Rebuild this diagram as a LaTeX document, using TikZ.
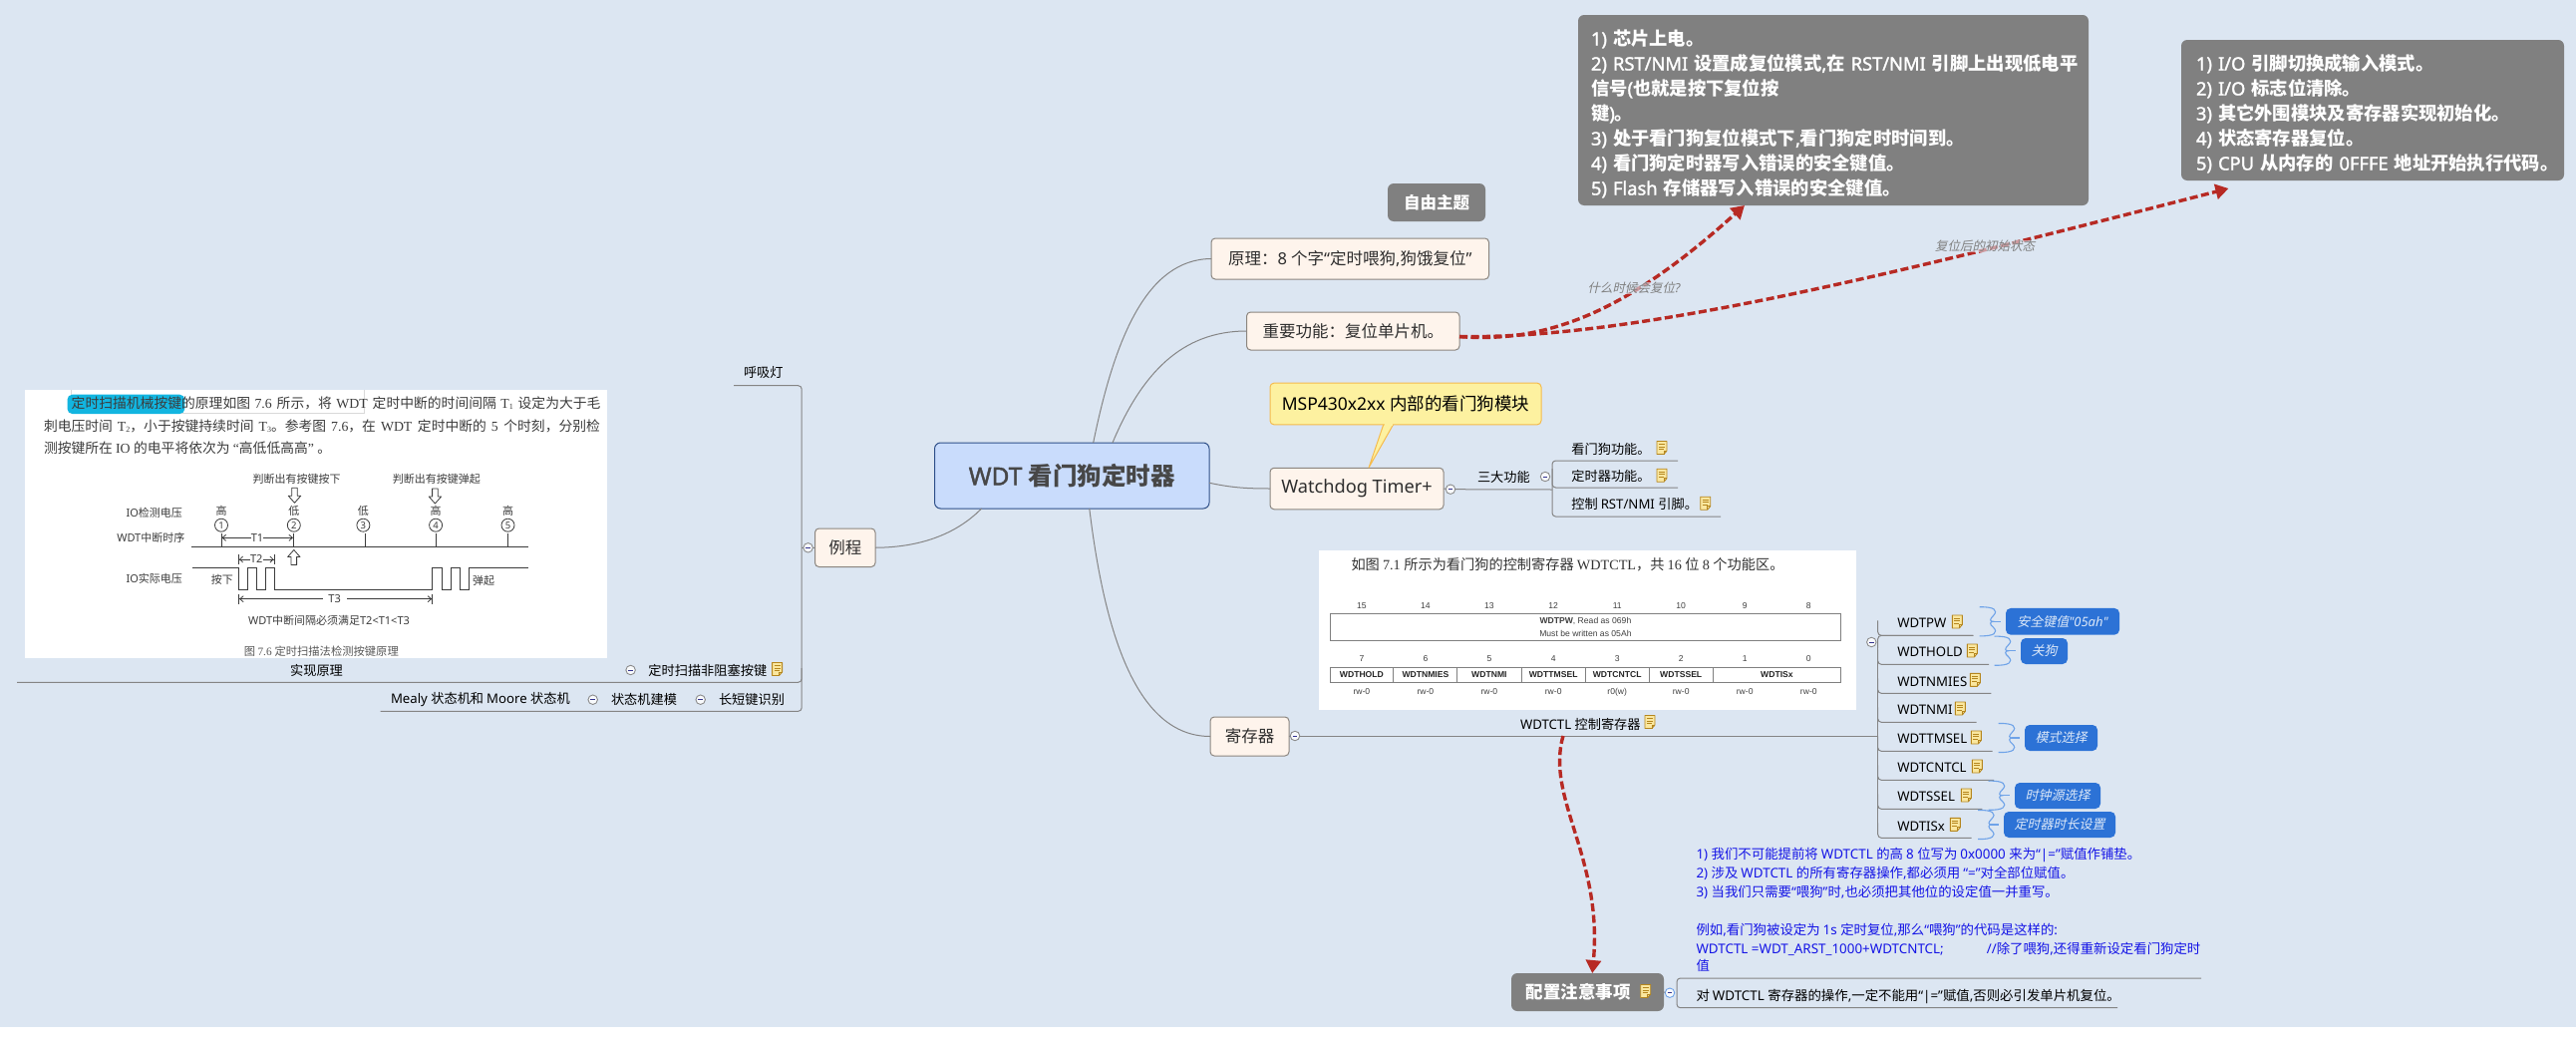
\documentclass[tikz,border=0pt]{standalone}
\usepackage{fontspec}
\usetikzlibrary{arrows.meta,calc}
\setmainfont{Noto Sans}
\newfontfamily\cjkf[AutoFakeSlant=0.22]{Noto Sans CJK SC}
\newfontfamily\sansl[AutoFakeBold=1.6]{Noto Sans}
\newfontfamily\serifl{Liberation Serif}
\newfontfamily\arialf{Liberation Sans}
\let\latinf\sansl
\newXeTeXintercharclass\cjkcl
\newcount\cc
\cc="0021 \loop \XeTeXcharclass\cc=0 \advance\cc 1 \ifnum\cc<"007F \repeat
\XeTeXcharclass"2018=0 \XeTeXcharclass"2019=0 \XeTeXcharclass"201C=0 \XeTeXcharclass"201D=0
\cc="3000 \loop \XeTeXcharclass\cc=\cjkcl \advance\cc 1 \ifnum\cc<"30FF \repeat
\cc="4E00 \loop \XeTeXcharclass\cc=\cjkcl \advance\cc 1 \ifnum\cc<"9FFF \repeat
\cc="FF00 \loop \XeTeXcharclass\cc=\cjkcl \advance\cc 1 \ifnum\cc<"FFEF \repeat
\XeTeXinterchartoks 0 \cjkcl={\cjkf}
\XeTeXinterchartoks 4095 \cjkcl={\cjkf}
\XeTeXinterchartoks \cjkcl 0={\latinf}
\XeTeXinterchartoks 4095 0={\latinf}
\XeTeXinterchartokenstate=1
\newcommand{\fz}[1]{\fontsize{#1}{#1}\selectfont}
\newcommand{\sbs}[1]{\lower1.5pt\hbox{\fz{8}#1}}
\definecolor{bg}{HTML}{DCE6F2}
\definecolor{rootfill}{HTML}{C9DCFC}
\definecolor{rootbrd}{HTML}{2F5089}
\definecolor{topicfill}{HTML}{FEF4EC}
\definecolor{topicbrd}{HTML}{8C8680}
\definecolor{graybox}{HTML}{808080}
\definecolor{branchc}{HTML}{858585}
\definecolor{redarr}{HTML}{B72A24}
\definecolor{yelfill}{HTML}{FDF1A0}
\definecolor{yelbrd}{HTML}{F5BB4E}
\definecolor{tagfill}{HTML}{2C72D6}
\definecolor{tagtext}{HTML}{DCE8F8}
\definecolor{bracec}{HTML}{6FA3E8}
\definecolor{notefill}{HTML}{FAE79F}
\definecolor{notebrd}{HTML}{B5861E}
\definecolor{txt}{HTML}{2E2E2E}
\definecolor{imgtxt}{HTML}{3C3C3C}
\definecolor{bluetxt}{HTML}{1414E6}
\definecolor{hilite}{HTML}{12B5E0}
\tikzset{
  x=1pt,y=-1pt,
  every node/.style={inner sep=0pt,outer sep=0pt},
  rootbox/.style={draw=rootbrd,fill=rootfill,rounded corners=6,line width=1,text=black!72,font=\bfseries\fz{24.5}},
  topicbox/.style={draw=topicbrd,fill=topicfill,rounded corners=4,line width=1,text=txt,font=\fz{16.5}},
  grayb/.style={fill=graybox,rounded corners=6,text=white,font=\bfseries\fontsize{18.3}{25}\selectfont},
  yellowb/.style={draw=yelbrd,fill=yelfill,rounded corners=4,line width=1,text=black,font=\fz{17.5}},
  tagbox/.style={fill=tagfill,rounded corners=5,text=tagtext,font=\itshape\fz{13}},
  lbl/.style={text=black,font=\fz{13.2}},
  conn/.style={draw=branchc,line width=1},
  branch/.style={draw=branchc,line width=1,rounded corners=3.5},
  redline/.style={draw=redarr,line width=3.4,dash pattern=on 8pt off 3.5pt,-{Triangle[length=13pt,width=15pt]}},
  rellbl/.style={text=gray,font=\itshape\fz{12.5},fill=bg,fill opacity=.6,text opacity=1},
  collapse/.style={circle,draw=gray!90,fill=white!80!bg,line width=.9,minimum size=9.5,
    path picture={\draw[line width=.8,black!40!blue!60!gray]
      ([xshift=-2.4]path picture bounding box.center)--([xshift=2.4]path picture bounding box.center);}},
  noteicon/.pic={
    \draw[draw=notebrd,fill=notefill,line width=.9,line join=round] (-5,-6.5)--(5,-6.5)--(5,3)--(2,6.5)--(-5,6.5)--cycle;
    \draw[draw=notebrd,line width=.7] (-3,-3.5)--(3,-3.5) (-3,-1)--(3,-1) (-3,1.5)--(2,1.5) (5,3)--(2,3)--(2,6.5);
  },
  bracepic/.pic={
    \draw[bracec,line width=1.1] (-21,-14.5) .. controls (-6,-15) and (-2,-11) .. (-7,-6) .. controls (-11,-2) and (-11,0) .. (-7,0)
      .. controls (-11,0) and (-11,3) .. (-7,6) .. controls (-2,11) and (-6,15) .. (-21,14.5);
    \draw[bracec,line width=1.4] (-8,0)--(0,0);
  },
  hollowdn/.pic={
    \draw[draw=imgtxt,fill=white,line width=.8,line join=round] (-2.8,0)--(2.8,0)--(2.8,8)--(6.2,8)--(0,15)--(-6.2,8)--(-2.8,8)--cycle;
  },
  imgt/.style={text=imgtxt,font=\fz{11}},
  tblt/.style={text=black!75,font=\let\latinf\arialf\arialf\fz{8.6}},
  tblb/.style={text=black!85,font=\let\latinf\arialf\arialf\bfseries\fz{8.6}},
  imgline/.style={draw=imgtxt,line width=.9},
  timearr/.style={draw=imgtxt,line width=.8},
  imgnum/.style={circle,draw=imgtxt,line width=.8,minimum size=13,text=imgtxt,font=\fz{9.5}},
}
\begin{document}
\begin{tikzpicture}
\useasboundingbox (0,0) rectangle (2584,1044);
\fill[white] (0,0) rectangle (2584,1044);
\fill[bg] (0,0) rectangle (2584,1030);

% ---- main nodes
\node[rootbox,minimum width=275.5,minimum height=66] (root) at (1075.25,477) {WDT 看门狗定时器};
\node[topicbox,minimum width=278.5,minimum height=41] (yl) at (1354.25,259.5) {原理：8 个字“定时喂狗,狗饿复位”};
\node[topicbox,minimum width=213.5,minimum height=38] (zy) at (1357.25,332) {重要功能：复位单片机。};
\node[topicbox,minimum width=174,minimum height=41.5,font=\fz{18.2}] (wt) at (1361,490) {Watchdog Timer+};
\node[topicbox,minimum width=79,minimum height=39,font=\fz{16.5}] (reg) at (1253.5,738.5) {寄存器};
\node[topicbox,minimum width=60.5,minimum height=38.5] (ex) at (847.75,549.25) {例程};
\node[grayb,minimum width=98,minimum height=38,font=\bfseries\fz{16.5}] (free) at (1441,203) {自由主题};
\node[grayb,minimum width=512,minimum height=191,anchor=north west,text width=486,align=left,inner xsep=13] (g1) at (1583,15) {%
  \rule{0pt}{23pt}1) 芯片上电。\\
  \mbox{2) RST/NMI 设置成复位模式,在 RST/NMI 引脚上出现低电平}\\
  信号(也就是按下复位按\\
  键)。\\
  3) 处于看门狗复位模式下,看门狗定时时间到。\\
  4) 看门狗定时器写入错误的安全键值。\\
  5) Flash 存储器写入错误的安全键值。};
\node[grayb,minimum width=380,minimum height=141,anchor=north west,text width=354,align=left,inner xsep=15] (g2) at (2188,40) {%
  \rule{0pt}{23pt}1) I/O 引脚切换成输入模式。\\
  2) I/O 标志位清除。\\
  3) 其它外围模块及寄存器实现初始化。\\
  4) 状态寄存器复位。\\
  \mbox{5) CPU 从内存的 0FFFE 地址开始执行代码。}};
\node[grayb,minimum width=153,minimum height=38,anchor=west,text width=153,font=\bfseries\fz{17.5}] (cfg) at (1516,995) {\hspace*{14.5pt}配置注意事项};
\pic at (1650.7,994) {noteicon};

% yellow callout
\fill[yelfill,draw=yelbrd,line width=1,line join=round] (1388,425) -- (1373,469) -- (1398,425);
\node[yellowb,minimum width=272,minimum height=41.7] (msp) at (1410,405) {MSP430x2xx 内部的看门狗模块};
\fill[yelfill] (1389,424) rectangle (1397,427);

% ---- main branches
\draw[conn] (root.57) .. controls (1118,340) and (1150,260) .. (yl.west);
\draw[conn] (root.39) .. controls (1145,375) and (1185,332) .. (zy.west);
\draw[conn] (root.-3.7) .. controls (1235,489) and (1250,490) .. (wt.west);
\draw[conn] (root.298) .. controls (1108,635) and (1140,738.5) .. (reg.west);
\draw[conn] (root.200) .. controls (955,540) and (915,549) .. (ex.east);

% ---- red relations
\draw[redline] (zy.-3.7) .. controls (1560,345) and (1640,305) .. (g1.227);
\draw[redline] (zy.-3.7) .. controls (1640,340) and (1900,275) .. ([yshift=-8]g2.206.7);
\node[rellbl] (ql) at (1639,289) {什么时候会复位?};
\node[rellbl] (ql2) at (1991,247) {复位后的初始状态};

% ---- Watchdog sub tree
\node[collapse] (c1) at (1455,490.7) {};
\node[lbl,anchor=west] (sd) at (1482,478) {三大功能};
\node[collapse] (c2) at (1550,478) {};
\coordinate (wja) at (1557,491);
\draw[conn] (wt.east) -- (c1);
\draw[conn] (c1) -- (wja);
\node[lbl,anchor=west] (w1) at (1576.4,450) {看门狗功能。};
\node[lbl,anchor=west] (w2) at (1576.4,477) {定时器功能。};
\node[lbl,anchor=west] (w3) at (1576.4,505.5) {控制 RST/NMI 引脚。};
\pic at (1667,449) {noteicon};
\pic at (1667,476.7) {noteicon};
\pic at (1710.7,504.7) {noteicon};
\coordinate (wa) at (1683,462);
\coordinate (wb) at (1683,489);
\coordinate (wd) at (1726,518);
\draw[branch] (wa) -- (1557,462) -- (1557,518) -- (wd);
\draw[branch] (1557,470) -- (1557,489) -- (wb);

% ---- register image
\fill[white] (1323,552) rectangle (1861.6,711.7);
\node[text=black!80,font=\fz{14.2},anchor=west] (imgr) at (1355.5,566.7) {\let\latinf\serifl 如图 7.1 所示为看门狗的控制寄存器 WDTCTL，共 16 位 8 个功能区。};
\foreach \n/\nx [count=\i] in {15/1365.9,14/1429.9,13/1493.9,12/1558.2,11/1622.2,10/1686.2,9/1750.2,8/1814.3}
  \node[tblt] (nh\i) at (\nx,607.7) {\n};
\foreach \n/\nx [count=\i] in {7/1365.9,6/1429.9,5/1493.9,4/1558.2,3/1622.2,2/1686.2,1/1750.2,0/1814.3}
  \node[tblt] (nl\i) at (\nx,660.7) {\n};
\foreach \n/\nx [count=\i] in {rw-0/1365.9,rw-0/1429.9,rw-0/1493.9,rw-0/1558.2,r0(w)/1622.2,rw-0/1686.2,rw-0/1750.2,rw-0/1814.3}
  \node[tblt,anchor=base] (nr\i) at (\nx,696.7) {\n};
\draw[gray,line width=.9] (1334,615.3) rectangle (1846.8,642.3);
\draw[gray,line width=.9] (1334,669) rectangle (1846.8,684.3);
\foreach \dx in {1397.7,1461.7,1526,1590.4,1654.4,1718.4}
  \draw[gray,line width=.9] (\dx,669) -- (\dx,684.3);
\node[tblt] (pw1) at (1590.4,623) {\textbf{WDTPW}, Read as 069h};
\node[tblt] (pw2) at (1590.4,635) {Must be written as 05Ah};
\foreach \n/\nx [count=\i] in {WDTHOLD/1365.9,WDTNMIES/1429.9,WDTNMI/1493.9,WDTTMSEL/1558.2,WDTCNTCL/1622.2,WDTSSEL/1686.2,WDTISx/1782.4}
  \node[tblb] (cell\i) at (\nx,676.7) {\n};

% ---- register sub tree
\node[collapse] (c3) at (1299,738) {};
\coordinate (rj) at (1883.7,738);
\draw[conn] (reg.east) -- (c3);
\draw[conn] (c3) -- (rj);
\node[lbl,anchor=west] (wdt) at (1525,726) {WDTCTL 控制寄存器};
\pic at (1655,724) {noteicon};
\node[collapse] (c4) at (1877.3,644) {};
\draw[branch] (1883.7,650) -- (1883.7,830);
\foreach \t/\ly/\ix/\ln/\rx [count=\i] in {
  WDTPW/625/1963.3/637.3/1979.3,
  WDTHOLD/654/1978.3/666.3/1995,
  WDTNMIES/683.3/1981.3/695.3/1997.3,
  WDTNMI/712/1966.3/724.3/1982.7,
  WDTTMSEL/741/1982.3/753.3/1998.7,
  WDTCNTCL/770/1983.3/782.3/2000,
  WDTSSEL/799/1972.3/811.3/1988.3,
  WDTISx/828.3/1961.3/840.3/1977.7}{
  \node[lbl,anchor=west] (r\i) at (1903.3,\ly) {\t};
  \pic at (\ix,\ly-1.5) {noteicon};
  \coordinate (re\i) at (\rx,\ln);
  \draw[branch] (1883.7,\ln-15) -- (1883.7,\ln) -- (re\i);
}
\draw[branch] (re1) -- (1883.7,637.3) -- (1883.7,650);
\node[tagbox,minimum width=114,minimum height=26.7] (t1) at (2069,623.3) {安全键值"05ah"};
\node[tagbox,minimum width=47,minimum height=26] (t2) at (2050.5,653) {关狗};
\node[tagbox,minimum width=73,minimum height=26] (t3) at (2067.5,740) {模式选择};
\node[tagbox,minimum width=86,minimum height=26] (t4) at (2064,798) {时钟源选择};
\node[tagbox,minimum width=112,minimum height=26] (t5) at (2066,827) {定时器时长设置};
\pic at (2006.6,623.3) {bracepic};
\pic at (2021.7,652.7) {bracepic};
\pic at (2025.7,740) {bracepic};
\pic at (2015.7,797.7) {bracepic};
\pic at (2005,827) {bracepic};

% ---- config
\node[text=bluetxt,font=\fontsize{13.4}{19}\selectfont,anchor=north west,align=left] (nb) at (1701.5,850) {%
  1) 我们不可能提前将 WDTCTL 的高 8 位写为 0x0000 来为“|=”赋值作铺垫。\\
  2) 涉及 WDTCTL 的所有寄存器操作,都必须用 “=”对全部位赋值。\\
  3) 当我们只需要“喂狗”时,也必须把其他位的设定值一并重写。\\[19pt]
  例如,看门狗被设定为 1s 定时复位,那么“喂狗”的代码是这样的:\\
  WDTCTL =WDT\_ARST\_1000+WDTCNTCL;\hspace{43pt}//除了喂狗,还得重新设定看门狗定时\\[-2pt]
  值};
\node[text=black,font=\fz{13.4},anchor=west] (nd) at (1701.5,999) {对 WDTCTL 寄存器的操作,一定不能用“|=”赋值,否则必引发单片机复位。};
\node[collapse,draw=bracec] (c5) at (1675,995.7) {};
\coordinate (nt) at (2208,981);
\coordinate (nu) at (2124,1010.7);
\draw[branch] (nt) -- (1682,981) -- (1682,1010.7) -- (nu);
\draw[conn] (cfg.east) -- (c5);
\coordinate (regl) at (1568,738);
\draw[redline] (regl) .. controls (1550,800) and (1608,860) .. (cfg.76.7);

% ---- left sub tree
\node[collapse] (c6) at (810.6,549.3) {};
\draw[conn] (ex.west) -- (c6);
\coordinate (lj) at (804.2,549.3);
\draw[conn] (c6) -- (lj);
\node[lbl] (br) at (765.8,374) {呼吸灯};
\coordinate (la) at (736,386.7);
\coordinate (lb) at (17,684.3);
\coordinate (lc) at (381.7,713.3);
\draw[branch] (la) -- (804.2,386.7) -- (804.2,713.3) -- (lc);
\draw[branch] (804.2,670) -- (804.2,684.3) -- (lb);
\node[lbl] (sx) at (317.5,672) {实现原理};
\node[collapse] (c7) at (632.6,672) {};
\node[lbl,anchor=west] (sm) at (650.4,672) {定时扫描非阻塞按键};
\pic at (779.6,671) {noteicon};
\node[lbl,anchor=west] (me) at (392,701.7) {Mealy 状态机和 Moore 状态机};
\node[collapse] (c8) at (594.7,701.7) {};
\node[lbl,anchor=west] (jm) at (613,701.7) {状态机建模};
\node[collapse] (c9) at (702.7,701.7) {};
\node[lbl,anchor=west] (cd) at (721,701.7) {长短键识别};

% ---- scanning image
\fill[white] (25,391) rectangle (609,660);
\draw[gray!30,line width=.8] (71.7,391) -- (71.7,414) -- (365.6,414) -- (365.6,391);
\fill[hilite,rounded corners=5] (67.5,395.7) rectangle (185.3,415);
\begin{scope}[every node/.append style={font=\fz{13.8},text=imgtxt}]
\node[anchor=west] (i1) at (71.7,404) {\let\latinf\serifl\makebox[530.8pt][s]{定时扫描机械按键的原理如图 7.6 所示，将 WDT 定时中断的时间间隔 T\sbs{1} 设定为大于毛}};
\node[anchor=west] (i2) at (44,427.3) {\let\latinf\serifl\makebox[558pt][s]{刺电压时间 T\sbs{2}，小于按键持续时间 T\sbs{3}。参考图 7.6，在 WDT 定时中断的 5 个时刻，分别检}};
\node[anchor=west] (i3) at (44,449.3) {\let\latinf\serifl 测按键所在 IO 的电平将依次为 “高低低高高” 。};
\end{scope}
\node[imgt] (p1) at (297.5,480) {判断出有按键按下};
\node[imgt] (p2) at (437.9,480) {判断出有按键弹起};
\pic at (295.5,489.3) {hollowdn};
\pic at (436.4,490) {hollowdn};
\pic[yscale=-1] at (294.8,566.5) {hollowdn};
\node[imgt] (l1) at (154.7,514) {IO检测电压};
\node[imgt] (l2) at (151.3,539) {WDT中断时序};
\node[imgt] (l3) at (154.7,580.3) {IO实际电压};
\foreach \h/\hx [count=\i] in {高/222,低/294.8,低/364.4,高/437.1,高/509.5}{
  \node[imgt] (lv\i) at (\hx,512.7) {\h};
  \node[imgnum] (no\i) at (\hx,526.7) {\i};
}
\draw[imgline] (192.2,548) -- (530,548);
\foreach \tx in {222,294.4,366.3,437.9,509.9}
  \draw[imgline] (\tx,535) -- (\tx,548);
\node[imgt] (tt1) at (258,539.3) {T1};
\draw[timearr,{Straight Barb[length=3.5pt,width=6pt]}-] (222.5,539.3) -- (tt1.west);
\draw[timearr,-{Straight Barb[length=3.5pt,width=6pt]}] (tt1.east) -- (294,539.3);
\node[imgt] (tt2) at (257.3,561) {T2};
\draw[timearr,{Bar[width=10pt,sep=0pt]Straight Barb[length=3pt,width=6pt]}-] (239.3,561) -- (tt2.west);
\draw[timearr,-{Straight Barb[length=3pt,width=6pt]Bar[width=10pt]}] (tt2.east) -- (275.3,561);
\draw[imgline] (193,569) -- (239.3,569) -- (239.3,591) -- (248.5,591) -- (248.5,569) -- (257.3,569) -- (257.3,591) -- (266,591) -- (266,569) -- (275.3,569) -- (275.3,591)
  -- (433.7,591) -- (433.7,569) -- (443.3,569) -- (443.3,591) -- (452,591) -- (452,569) -- (461.3,569) -- (461.3,591) -- (470,591) -- (470,569) -- (530,569);
\node[imgt] (pr) at (222.8,581.7) {按下};
\node[imgt] (tq) at (485,582.3) {弹起};
\node[imgt] (tt3) at (335.7,600.7) {T3};
\draw[timearr,{Bar[width=10pt,sep=0pt]Straight Barb[length=3.5pt,width=6pt]}-] (239.3,600.7) -- (323.5,600.7);
\draw[timearr,-{Straight Barb[length=3.5pt,width=6pt]Bar[width=10pt]}] (348,600.7) -- (434,600.7);
\node[imgt] (cap1) at (330,622.7) {WDT中断间隔必须满足T2<T1<T3};
\node[imgt,text=black!65,font=\fz{11.3}] (cap2) at (322.3,652.7) {\let\latinf\serifl 图 7.6 定时扫描法检测按键原理};
\end{tikzpicture}
\end{document}
